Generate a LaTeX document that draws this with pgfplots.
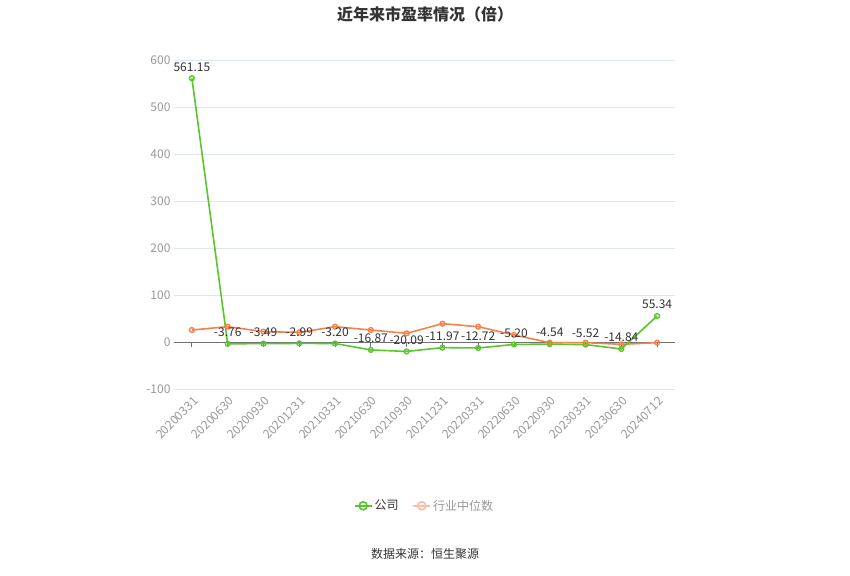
\documentclass[border=0pt]{standalone}
\usepackage{fontspec}
\setmainfont{Noto Sans CJK SC}
\usepackage{pgfplots}
\pgfplotsset{compat=1.18}
\definecolor{gs}{HTML}{5BC62C}
\definecolor{os}{HTML}{F5824C}
\definecolor{osl}{HTML}{F9BFA4}
\definecolor{gridc}{HTML}{E0E6F1}
\definecolor{tickc}{HTML}{999999}
\definecolor{axc}{HTML}{6E7079}
\definecolor{lblc}{HTML}{333333}
\begin{document}
\begin{tikzpicture}[x=1pt,y=1pt]
\path[use as bounding box] (0,0) rectangle (850,575);
\begin{axis}[
  at={(174pt,186pt)}, anchor=south west,
  scale only axis, width=501pt, height=329pt,
  xmin=-0.5, xmax=13.5, ymin=-100, ymax=600,
  ytick={-100,0,100,200,300,400,500,600},
  xtick={0,...,13},
  xticklabels={20200331,20200630,20200930,20201231,20210331,20210630,20210930,20211231,20220331,20220630,20220930,20230331,20230630,20240712},
  x tick label style={rotate=45, anchor=north east, font=\fontsize{12}{13}\selectfont, text=tickc, xshift=-1pt, yshift=-2pt},
  y tick label style={font=\fontsize{12}{13}\selectfont, text=tickc},
  /pgf/number format/assume math mode=true,
  ymajorgrids, grid style={gridc, line width=0.8pt},
  major tick length=0pt,
  axis line style={draw=none},
  clip=false,
  legend style={at={(0.5,-0.355)}, anchor=center, draw=none, legend columns=2,
    font=\fontsize{12}{13}\selectfont, /tikz/every even column/.append style={column sep=12pt}},
  legend cell align=left,
]
\draw[axc, line width=0.8pt] (axis cs:-0.5,0) -- (axis cs:13.5,0);
\pgfplotsinvokeforeach{0,...,13}{\draw[axc, line width=0.8pt] (axis cs:#1,0) -- ++(0pt,-5pt);}
\addplot[os, line width=1.6pt, mark=o, mark size=2.4pt, mark options={fill=white, line width=1.4pt}, forget plot] coordinates {
 (0,25.5) (1,32.6) (2,22) (3,20.5) (4,32.6) (5,25.5) (6,18.4) (7,39) (8,32.6) (9,15) (10,-1.4) (11,-1.4) (12,-5) (13,-1.4)
};
\addplot[gs, line width=1.6pt, mark=o, mark size=2.4pt, mark options={fill=white, line width=1.4pt},
  nodes near coords, point meta=explicit symbolic,
  every node near coord/.append style={font=\fontsize{12}{13}\selectfont, text=lblc, anchor=south, yshift=3pt}, forget plot] coordinates {
 (0,561.15)[561.15] (1,-3.76)[-3.76] (2,-3.49)[-3.49] (3,-2.99)[-2.99] (4,-3.20)[-3.20] (5,-16.87)[-16.87] (6,-20.09)[-20.09]
 (7,-11.97)[-11.97] (8,-12.72)[-12.72] (9,-5.20)[-5.20] (10,-4.54)[-4.54] (11,-5.52)[-5.52] (12,-14.84)[-14.84] (13,55.34)[55.34]
};
\addlegendimage{gs, line width=1.6pt, mark=o, mark size=4pt, mark options={fill=white, line width=1.6pt}}
\addlegendentry{\textcolor{lblc}{公司}}
\addlegendimage{osl, line width=1.6pt, mark=o, mark size=4pt, mark options={fill=white, line width=1.6pt}}
\addlegendentry{\textcolor{tickc}{行业中位数}}
\end{axis}
\node[font=\fontsize{16}{17}\selectfont\bfseries, text=lblc] at (425,561) {近年来市盈率情况（倍）};
\node[font=\fontsize{12}{13}\selectfont, text=lblc] at (425,21) {数据来源：恒生聚源};
\end{tikzpicture}
\end{document}
